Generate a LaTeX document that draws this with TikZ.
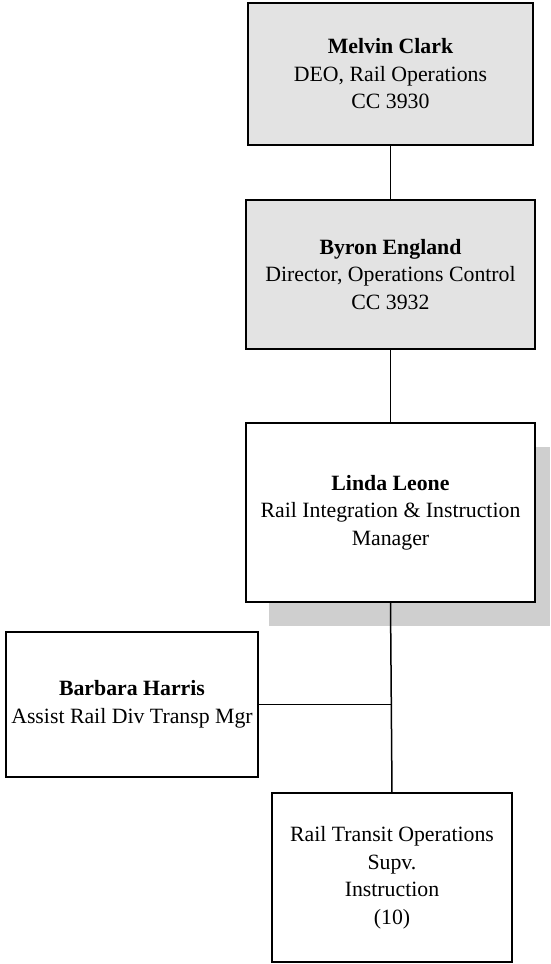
\documentclass[tikz,border=0pt]{standalone}
\usepackage{fontspec}
\setmainfont{Liberation Serif}
\begin{document}
\begin{tikzpicture}[x=1pt,y=-1pt,
  box/.style={draw=black,line width=1.5pt,align=center,inner sep=0pt,outer sep=0pt,
    font=\fontsize{21.8}{27.5}\selectfont},
  graybox/.style={box,fill=gray!22},
  wire/.style={draw=black,line width=1.5pt}]
\useasboundingbox (0,0) rectangle (550,964);
\fill[gray!38] (269,447) rectangle (550,626);
\node[graybox,minimum width=285,minimum height=142] (mc) at (390.5,74)
  {\textbf{Melvin Clark}\\DEO, Rail Operations\\CC 3930};
\node[graybox,minimum width=289,minimum height=149] (be) at (390.5,274.5)
  {\textbf{Byron England}\\Director, Operations Control\\CC 3932};
\node[box,fill=white,minimum width=289,minimum height=179] (ll) at (390.5,512.5)
  {\textbf{Linda Leone}\\Rail Integration \& Instruction\\Manager};
\node[box,fill=white,minimum width=252,minimum height=145] (bh) at (132,704.5)
  {\textbf{Barbara Harris}\\Assist Rail Div Transp Mgr};
\node[box,fill=white,minimum width=240,minimum height=169] (rt) at (392,877.5)
  {Rail Transit Operations\\Supv.\\Instruction\\(10)};
\coordinate (j) at (391,704.5);
\draw[wire] (mc.south) -- (be.north);
\draw[wire] (be.south) -- (ll.north);
\draw[wire] (ll.south) -- (rt.north);
\draw[wire] (bh.east) -- (j);
\end{tikzpicture}
\end{document}
